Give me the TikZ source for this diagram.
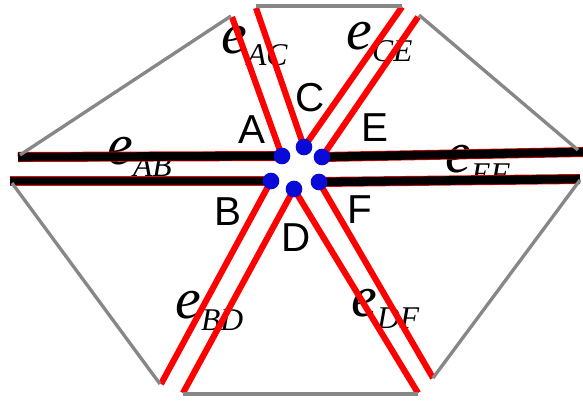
\documentclass[tikz,border=0pt]{standalone}
\usepackage{fontspec}
\setmainfont{Liberation Sans}
\newfontfamily\edgefont{Liberation Serif}
\usepackage{xcolor}
\usepackage{tikz}
\usetikzlibrary{backgrounds}
\definecolor{dotblue}{RGB}{10,10,215}
\definecolor{rimgray}{RGB}{135,135,135}
\newcommand{\elab}[1]{{\edgefont\itshape\fontsize{33}{33}\selectfont e\raisebox{-7pt}{\fontsize{18}{18}\selectfont #1}}}

\begin{document}
\begin{tikzpicture}[x=0.02cm, y=-0.02cm,
            rim/.style={draw=rimgray, line width=1.9pt},
            redge/.style={draw=red, line width=3.5pt},
            bedge/.style={draw=black, line width=4.9pt, preaction={draw=red, line width=5.7pt}},
            dot/.style={circle, fill=dotblue, inner sep=0pt, minimum size=9.5pt},
            vlab/.style={font=\fontsize{23}{23}\selectfont},
            elabel/.style={anchor=base west, inner sep=0pt}
        ]

    \useasboundingbox (0,0) rectangle (583,400);

    \draw[rim] (256,6) -- (402,6);
    \draw[rim] (231,16) -- (20,155);
    \draw[rim] (12,183) -- (160,384);
    \draw[rim] (183,394) -- (418,394);
    \draw[rim] (433,378) -- (580,180);
    \draw[rim] (419,15) -- (578,150);

    \coordinate (a1) at (18,157);
    \coordinate (b1) at (10,181);
    \coordinate (e1) at (583,152);
    \coordinate (f1) at (580,179);
    \coordinate (a2) at (232,17);
    \coordinate (c1) at (256,8);
    \coordinate (c2) at (402,7);
    \coordinate (e2) at (418,17);
    \coordinate (b2) at (161,384);
    \coordinate (d1) at (183,393);
    \coordinate (d2) at (418,393);
    \coordinate (f2) at (433,378);

    \node[dot] (A) at (282,156) {};
    \node[dot] (B) at (271,181) {};
    \node[dot] (C) at (304,147) {};
    \node[dot] (D) at (294,189) {};
    \node[dot] (E) at (322,157) {};
    \node[dot] (F) at (319,182) {};

    \begin{pgfonlayer}{background}
    \node[elabel] (eAC) at (221,53)  {\elab{AC}};
    \node[elabel] (eCE) at (346,49)  {\elab{CE}};
    \node[elabel] (eAB) at (107,164) {\elab{AB}};
    \node[elabel] (eEF) at (445,172) {\elab{EF}};
    \node[elabel] (eBD) at (175,318) {\elab{BD}};
    \node[elabel] (eDF) at (351,316) {\elab{DF}};

    \draw[bedge] (a1) -- (A.center);
    \draw[bedge] (b1) -- (B.center);
    \draw[bedge] (E.center) -- (e1);
    \draw[bedge] (F.center) -- (f1);
    \draw[redge] (a2) -- (A.center);
    \draw[redge] (c1) -- (C.center);
    \draw[redge] (c2) -- (C.center);
    \draw[redge] (e2) -- (E.center);
    \draw[redge] (b2) -- (B.center);
    \draw[redge] (d1) -- (D.center);
    \draw[redge] (d2) -- (D.center);
    \draw[redge] (f2) -- (F.center);
    \end{pgfonlayer}

    \node[vlab] (labA) at (252,130) {A};
    \node[vlab] (labB) at (228,212) {B};
    \node[vlab] (labC) at (310,98)  {C};
    \node[vlab] (labD) at (296,238) {D};
    \node[vlab] (labE) at (375,128) {E};
    \node[vlab] (labF) at (360,210) {F};

\end{tikzpicture}
\end{document}
